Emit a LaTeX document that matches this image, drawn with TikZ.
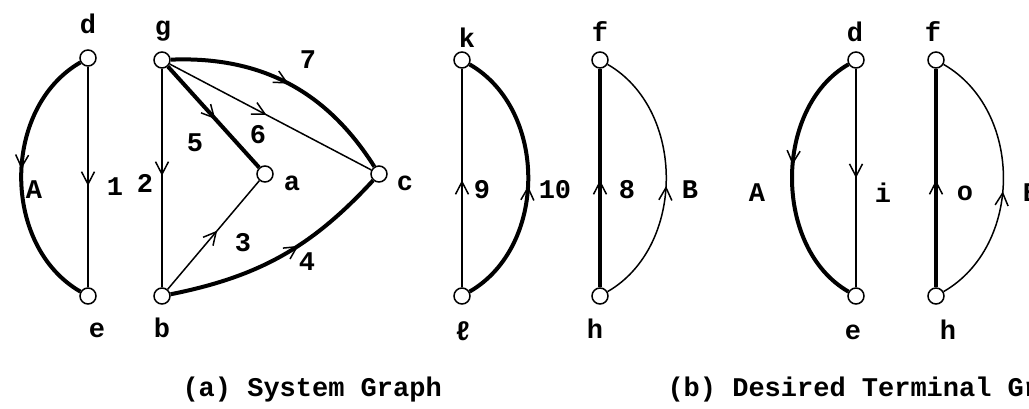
\documentclass[tikz,border=0pt]{standalone}
\usepackage{fontspec}
\setmonofont{Liberation Mono}
\usetikzlibrary{arrows.meta,decorations.markings}

\begin{document}
\begin{tikzpicture}[x=0.4pt, y=0.4pt,
  font=\ttfamily\bfseries\fontsize{10.8}{13}\selectfont,
  term/.style={circle, draw, fill=white, line width=0.6pt, inner sep=0pt, minimum size=6.4pt},
  lbl/.style={inner sep=0pt},
  lightedge/.style={line width=0.6pt},
  heavyedge/.style={line width=1.6pt},
  midarr/.style={postaction={decorate}, decoration={markings,
      mark=at position #1 with {\arrow{Straight Barb[length=5pt, width=5.2pt, line width=0.6pt]}}}}]
  \useasboundingbox (0,0) rectangle (1029,408);
  \clip (0,0) rectangle (1029,408);
  % (a) system graph
  \node[term] (d) at (88,350) {};
  \node[term] (e) at (88,112) {};
  \node[term] (g) at (162,348) {};
  \node[term] (b) at (162,112) {};
  \node[term] (a) at (265,234) {};
  \node[term] (c) at (379,234) {};
  \node[term] (k) at (462,348) {};
  \node[term] (l) at (462,112) {};
  \node[term] (f) at (600,348) {};
  \node[term] (h) at (600,112) {};
  % (b) desired terminal graph
  \node[term] (d2) at (856,348) {};
  \node[term] (e2) at (856,112) {};
  \node[term] (f2) at (936,348) {};
  \node[term] (h2) at (936,112) {};

  \draw[heavyedge, midarr=0.47] (d) to[bend right=60, looseness=1.02] (e);
  \draw[lightedge, midarr=0.54] (d) -- (e);
  \draw[lightedge, midarr=0.49] (g) -- (b);
  \draw[heavyedge, midarr=0.52] (g) -- (a);
  \draw[lightedge, midarr=0.48] (g) -- (c);
  \draw[heavyedge, midarr=0.5] (g) to[bend left=30] (c);
  \draw[lightedge, midarr=0.54] (b) -- (a);
  \draw[heavyedge, midarr=0.58] (b) to[bend right=18] (c);
  \draw[lightedge, midarr=0.49] (l) -- (k);
  \draw[heavyedge, midarr=0.47] (l) to[bend right=60, looseness=1.02] (k);
  \draw[heavyedge, midarr=0.49] (h) -- (f);
  \draw[lightedge, midarr=0.47] (h) to[bend right=60, looseness=1.02] (f);
  \draw[heavyedge, midarr=0.45] (d2) to[bend right=60, looseness=0.98] (e2);
  \draw[lightedge, midarr=0.5] (d2) -- (e2);
  \draw[heavyedge, midarr=0.49] (h2) -- (f2);
  \draw[lightedge, midarr=0.45] (h2) to[bend right=60, looseness=1.04] (f2);

  % vertex names
  \node[lbl, anchor=base] (dname) at (88,375) {d};
  \node[lbl, anchor=base] (gname) at (163,373) {g};
  \node[lbl, anchor=base] (kname) at (467,360) {k};
  \node[lbl, anchor=base] (fname) at (600,366) {f};
  \node[lbl, anchor=base] (eName) at (97,71) {e};
  \node[lbl, anchor=base] (bname) at (162,71) {b};
  \node[lbl, anchor=base] (lname) at (463,68) {ℓ};
  \node[lbl, anchor=base] (hname) at (595,70) {h};
  \node[lbl] (aname) at (292,225) {a};
  \node[lbl] (cname) at (405,225) {c};
  \node[lbl, anchor=base] (d2name) at (855,366) {d};
  \node[lbl, anchor=base] (f2name) at (933,366) {f};
  \node[lbl, anchor=base] (e2name) at (853,69) {e};
  \node[lbl, anchor=base] (h2name) at (948,69) {h};
  % edge names
  \node[lbl] (nA) at (34,218) {A};
  \node[lbl] (n1) at (115,221) {1};
  \node[lbl] (n2) at (145,225) {2};
  \node[lbl] (n5) at (195,265) {5};
  \node[lbl] (n6) at (258,273) {6};
  \node[lbl] (n7) at (308,348) {7};
  \node[lbl] (n3) at (243,165) {3};
  \node[lbl] (n4) at (307,146) {4};
  \node[lbl] (n9) at (482,218) {9};
  \node[lbl] (n10) at (555,218) {10};
  \node[lbl] (n8) at (627,218) {8};
  \node[lbl] (nB) at (690,218) {B};
  \node[lbl] (nA2) at (757,215) {A};
  \node[lbl] (ni) at (883,215) {i};
  \node[lbl] (no) at (965,215) {o};
  \node[lbl] (nB2) at (1031,215) {B};
  % captions
  \node[lbl, anchor=base west] (capa) at (182,12) {(a) System Graph};
  \node[lbl, anchor=base west] (capb) at (667,12) {(b) Desired Terminal Graph};
\end{tikzpicture}
\end{document}
